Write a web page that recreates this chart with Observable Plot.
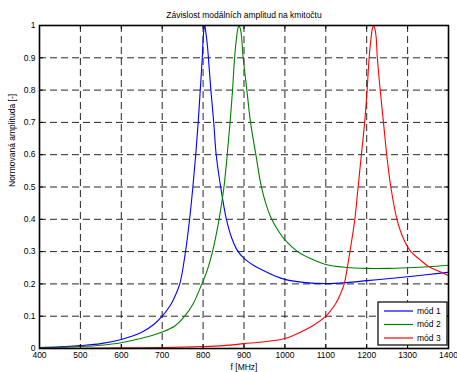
<!DOCTYPE html>
<html>
<head>
<meta charset="utf-8">
<script src="https://cdn.jsdelivr.net/npm/d3@7"></script>
<script src="https://cdn.jsdelivr.net/npm/@observablehq/plot@0.6"></script>
<style>
  html, body { margin: 0; padding: 0; background: white; }
  svg { display: block; }
</style>
</head>
<body>
<div id="chart"></div>
<script>
// ---- data ----
const xTicks = [400, 500, 600, 700, 800, 900, 1000, 1100, 1200, 1300, 1400];
const yTicks = [0, 0.1, 0.2, 0.3, 0.4, 0.5, 0.6, 0.7, 0.8, 0.9, 1];
const yTickLabels = ["0", "0.1", "0.2", "0.3", "0.4", "0.5", "0.6", "0.7", "0.8", "0.9", "1"];

const seriesNames = ["mód 1", "mód 2", "mód 3"];
const seriesColors = ["#0000ff", "#008000", "#ff0000"];

const mod1F = [400,450,500,550,600,650,680,700,720,730,743,757,767,775,782,788,793,798,801,804,807,810,813,819,826,832,843,857,870,884,900,925,950,977,1000,1050,1100,1150,1200,1250,1300,1350,1400];
const mod1V = [0.003,0.005,0.009,0.015,0.028,0.05,0.075,0.1,0.134,0.158,0.2,0.3,0.4,0.5,0.6,0.7,0.8,0.9,0.975,1.0,0.975,0.945,0.9,0.8,0.7,0.6,0.5,0.4,0.342,0.303,0.279,0.256,0.24,0.224,0.214,0.204,0.201,0.204,0.21,0.216,0.222,0.229,0.236];

const mod2F = [400,450,500,550,600,647,675,700,730,755,775,797,810,823,839,851,859,866,872,877,882,885,888,891,894,898,907,916,929,941,953,966,985,1000,1031,1060,1100,1150,1200,1250,1300,1350,1400];
const mod2V = [0.002,0.004,0.006,0.01,0.018,0.031,0.04,0.051,0.069,0.1,0.137,0.2,0.242,0.3,0.4,0.5,0.6,0.7,0.8,0.9,0.965,0.99,1.0,0.99,0.965,0.9,0.8,0.7,0.6,0.51,0.45,0.405,0.362,0.336,0.3,0.28,0.26,0.251,0.248,0.248,0.25,0.253,0.258];

const mod3F = [400,500,600,700,800,850,900,950,1000,1040,1070,1100,1125,1135,1145,1152,1159,1171,1179,1187,1195,1201,1206,1211,1214,1217,1220,1223,1226,1233,1241,1249,1259,1274,1290,1308,1330,1352,1375,1400];
const mod3V = [0.001,0.001,0.002,0.003,0.006,0.009,0.015,0.021,0.031,0.052,0.072,0.1,0.141,0.166,0.2,0.246,0.3,0.4,0.5,0.6,0.7,0.8,0.9,0.965,0.99,1.0,0.99,0.965,0.9,0.8,0.7,0.6,0.5,0.4,0.34,0.3,0.275,0.253,0.24,0.226];

const titleText = "Závislost modálních amplitud na kmitočtu";
const xLabelText = "f [MHz]";
const yLabelText = "Normovaná amplituda [-]";

// ---- tables ----
const toRows = (fs, vs, name) => fs.map((f, i) => ({f, v: vs[i], name}));
const rows = [
  ...toRows(mod1F, mod1V, seriesNames[0]),
  ...toRows(mod2F, mod2V, seriesNames[1]),
  ...toRows(mod3F, mod3V, seriesNames[2])
];

const W = 457, H = 372;
const mL = 39, mR = 9, mT = 25, mB = 24;
const font = "'Liberation Sans', Arial, Helvetica, sans-serif";

const innerX = xTicks.slice(1, -1);
const innerY = yTicks.slice(1, -1);

const chart = Plot.plot({
  width: W, height: H,
  marginLeft: mL, marginRight: mR, marginTop: mT, marginBottom: mB,
  style: {fontFamily: font, fontSize: "8px", background: "white", color: "black"},
  x: {domain: [400, 1400], label: null},
  y: {domain: [0, 1], label: null},
  color: {domain: seriesNames, range: seriesColors},
  marks: [
    // dashed grid
    Plot.ruleX(innerX, {x: d => d, stroke: "black", strokeWidth: 1, strokeOpacity: 0.85, strokeDasharray: "7,4"}),
    Plot.ruleY(innerY, {y: d => d, stroke: "black", strokeWidth: 1, strokeOpacity: 0.85, strokeDasharray: "7,4"}),
    // curves
    Plot.line(rows, {x: "f", y: "v", z: "name", stroke: "name", strokeWidth: 1.1, curve: "catmull-rom", clip: true}),
    // inward ticks (bottom, top, left, right)
    Plot.ruleX(xTicks, {x: d => d, y1: 0, y2: 0.012, stroke: "black"}),
    Plot.ruleX(xTicks, {x: d => d, y1: 0.988, y2: 1, stroke: "black"}),
    Plot.ruleY(yTicks, {y: d => d, x1: 400, x2: 410, stroke: "black"}),
    Plot.ruleY(yTicks, {y: d => d, x1: 1390, x2: 1400, stroke: "black"}),
    Plot.frame({stroke: "black", strokeWidth: 1.6}),
    Plot.axisX(xTicks, {tickSize: 0, tickPadding: 3, fontSize: 8.5, label: null, tickFormat: d => String(d)}),
    Plot.axisY(yTicks, {tickSize: 0, tickPadding: 4, fontSize: 8.5, label: null,
      tickFormat: d => yTickLabels[yTicks.indexOf(d)]}),
    Plot.text([titleText], {text: d => d, frameAnchor: "top", dy: -14, fontSize: 8.5}),
    Plot.text([xLabelText], {text: d => d, frameAnchor: "bottom", dy: 21, fontSize: 8.5}),
    Plot.text([yLabelText], {text: d => d, frameAnchor: "left", dx: -27, rotate: -90, fontSize: 8.5})
  ]
});

document.getElementById("chart").appendChild(chart);

// ---- legend box (inside axes, bottom right) ----
const svg = d3.select(chart);
const boxW = 69, boxH = 43;
const bx = W - mR - 1 - boxW;
const by = H - mB - 3 - boxH;
const lg = svg.append("g").attr("font-family", font).attr("font-size", 8.5).attr("text-anchor", "start");
lg.append("rect").attr("x", bx).attr("y", by).attr("width", boxW).attr("height", boxH)
  .attr("fill", "white").attr("stroke", "black").attr("stroke-width", 1.2);
seriesNames.forEach((name, i) => {
  const yy = by + 9 + i * 13.5;
  lg.append("line").attr("x1", bx + 6).attr("x2", bx + 35).attr("y1", yy).attr("y2", yy)
    .attr("stroke", seriesColors[i]).attr("stroke-width", 1.2);
  lg.append("text").attr("x", bx + 39).attr("y", yy).attr("dy", "0.35em").attr("fill", "black")
    .attr("text-anchor", "start").text(name);
});
</script>
</body>
</html>
